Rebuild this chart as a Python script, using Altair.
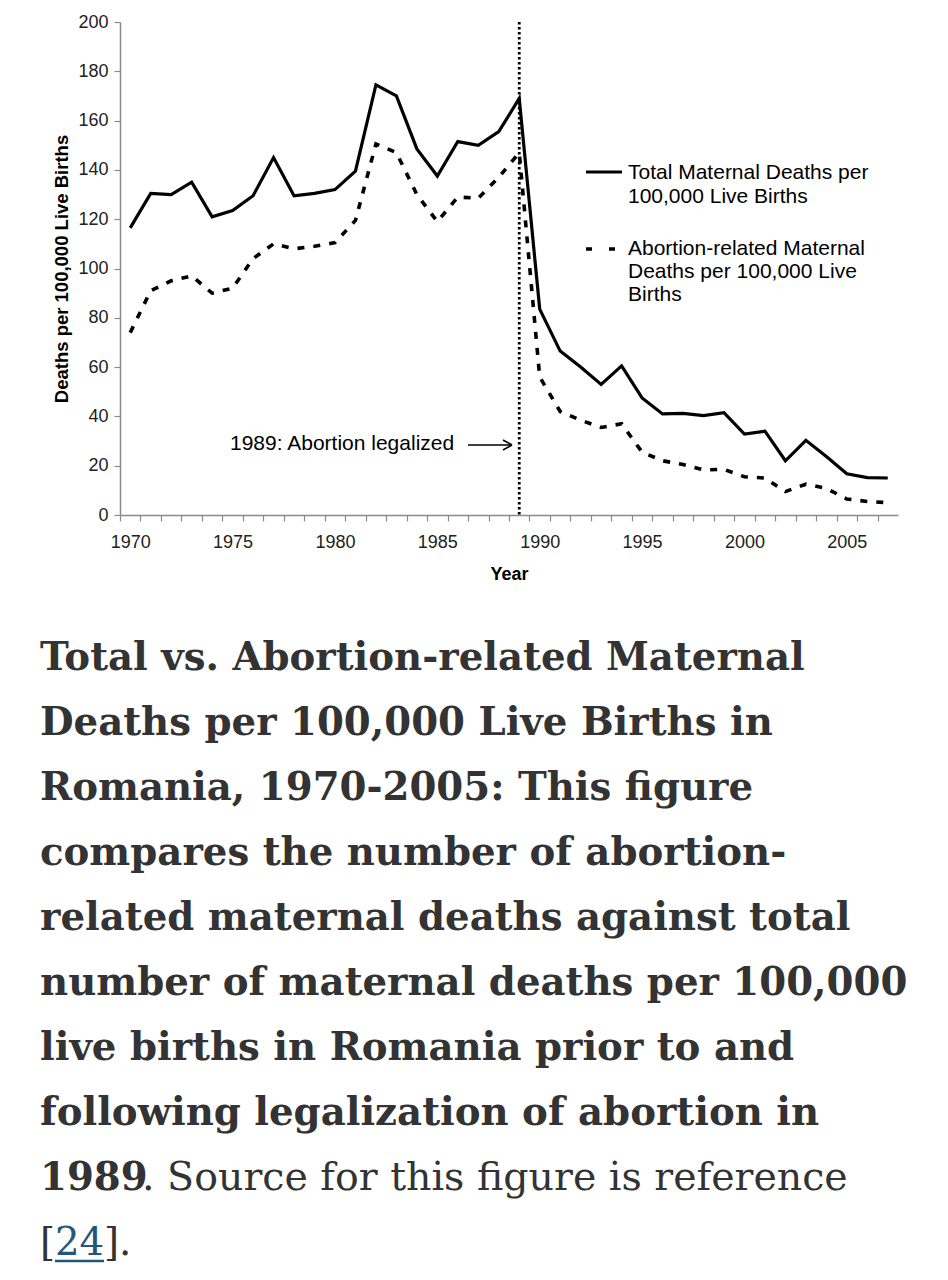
import altair as alt
import pandas as pd

# ---------------- data ----------------
years = list(range(1970, 2008))
total_deaths = [116.5, 130.5, 130.0, 135.0, 121.0, 123.5, 129.5, 145.0, 129.5, 130.5,
                132.0, 139.5, 174.5, 170.0, 148.5, 137.5, 151.5, 150.0, 155.5, 169.0,
                83.5, 66.5, 60.0, 53.0, 60.5, 47.5, 41.0, 41.2, 40.3, 41.5,
                32.8, 34.0, 22.0, 30.3, 23.7, 16.7, 15.2, 15.0]
abortion_deaths = [74.0, 91.0, 95.0, 97.0, 90.0, 92.0, 104.0, 110.0, 108.0, 109.0,
                   110.5, 119.5, 150.5, 147.0, 130.0, 119.0, 129.0, 128.5, 137.0, 147.0,
                   56.0, 42.0, 38.5, 35.5, 37.0, 25.5, 22.0, 20.5, 18.3, 18.5,
                   15.5, 15.0, 9.5, 12.5, 10.8, 6.5, 5.5, 5.0]
legal_year = [1989]
y_tick_values = [0, 20, 40, 60, 80, 100, 120, 140, 160, 180, 200]
x_tick_years = list(range(1970, 2009))

legend_total = ["Total Maternal Deaths per", "100,000 Live Births"]
legend_abort = ["Abortion-related Maternal", "Deaths per 100,000 Live", "Births"]
annotation = "1989: Abortion legalized"

caption_bold_lines = [
    "Total vs. Abortion-related Maternal",
    "Deaths per 100,000 Live Births in",
    "Romania, 1970-2005: This figure",
    "compares the number of abortion-",
    "related maternal deaths against total",
    "number of maternal deaths per 100,000",
    "live births in Romania prior to and",
    "following legalization of abortion in",
]
caption_l9_bold = "1989"
caption_l9_rest = ". Source for this figure is reference"
ref_open, ref_num, ref_close = "[", "24", "]."

df = pd.DataFrame({"Year": years, "Total": total_deaths, "Abortion": abortion_deaths})
one = pd.DataFrame({"a": [0]})

W, H = 778, 493
half = W / 38 / 2
SANS = "Liberation Sans"
SERIF = "DejaVu Serif"
CAP = "#333333"

x_enc = alt.X(
    "Year:Q",
    scale=alt.Scale(domain=[1969.5, 2007.5], nice=False, zero=False),
    axis=alt.Axis(
        values=x_tick_years, format="d", tickOffset=-half, labelOffset=half,
        labelExpr="datum.value % 5 == 0 ? datum.label : ''",
        labelOverlap=False, labelFlush=False, title="Year",
        tickSize=6, labelPadding=12, titlePadding=14, titleFontSize=18,
    ),
)
y_axis = alt.Axis(values=y_tick_values, title="Deaths per 100,000 Live Births",
                  tickSize=6, labelPadding=6, titlePadding=6, titleFontSize=18.5)
y_scale = alt.Scale(domain=[0, 200], nice=False)

base = alt.Chart(df)
solid = base.mark_line(color="black", strokeWidth=3.2).encode(
    x=x_enc, y=alt.Y("Total:Q", scale=y_scale, axis=y_axis))
dashed = base.mark_line(color="black", strokeWidth=3.6, strokeDash=[7, 9]).encode(
    x=x_enc, y=alt.Y("Abortion:Q", scale=y_scale, axis=y_axis))
vline = alt.Chart(pd.DataFrame({"Year": legal_year})).mark_rule(
    color="black", strokeWidth=2.8, strokeDash=[2.5, 2.5]).encode(x=x_enc)

def txt(x, y, text, size, font=SANS, weight="normal", color="black", lh=None):
    kw = dict(align="left", baseline="alphabetic", font=font, fontSize=size,
              fontWeight=weight, color=color)
    if lh:
        kw["lineHeight"] = lh
    return alt.Chart(one).mark_text(**kw).encode(
        x=alt.value(x), y=alt.value(y), text=alt.value(text))

def seg(x1, y1, x2, y2, width=2.2, dash=None, color="black"):
    kw = dict(color=color, strokeWidth=width)
    if dash:
        kw["strokeDash"] = dash
    return alt.Chart(one).mark_rule(**kw).encode(
        x=alt.value(x1), x2=alt.value(x2), y=alt.value(y1), y2=alt.value(y2))

# page -> plot coordinates: plot origin at page (120, 22)
def px(X):
    return X - 120
def py(Y):
    return Y - 22

layers = [solid, dashed, vline]
# legend
layers.append(seg(px(586), py(172), px(622), py(172), width=3.2))
layers.append(seg(px(586), py(249), px(616), py(249), width=3.6, dash=[6, 17]))
layers.append(txt(px(628), py(179), legend_total, 21, lh=24))
layers.append(txt(px(628), py(255), legend_abort, 21, lh=23))
# annotation
layers.append(txt(px(230), py(450), annotation, 21))
layers.append(seg(px(468), py(445), px(512), py(445), width=1.6))
layers.append(seg(px(503), py(440), px(512), py(445), width=1.6))
layers.append(seg(px(503), py(450), px(512), py(445), width=1.6))

# caption
FS = 38.7
for i, line in enumerate(caption_bold_lines):
    layers.append(txt(px(40), py(670 + 65 * i), line, FS, font=SERIF, weight="bold", color=CAP))
layers.append(txt(px(40), py(670 + 65 * 8), caption_l9_bold, FS, font=SERIF, weight="bold", color=CAP))
layers.append(txt(px(142), py(670 + 65 * 8), caption_l9_rest, 39.5, font=SERIF, color=CAP))
layers.append(txt(px(40), py(670 + 65 * 9), ref_open, FS, font=SERIF, color=CAP))
layers.append(txt(px(55), py(670 + 65 * 9), ref_num, FS, font=SERIF, color="#24557a"))
layers.append(txt(px(104), py(670 + 65 * 9), ref_close, FS, font=SERIF, color=CAP))
layers.append(seg(px(55), py(1261), px(104), py(1261), width=2.5, color="#24557a"))

chart = alt.layer(*layers).properties(
    width=W, height=H,
    autosize=alt.AutoSizeParams(type="none"),
    padding={"left": 112, "top": 14, "right": 30, "bottom": 750},
).configure_view(stroke=None).configure_axis(
    domainColor="#8a8a8a", tickColor="#8a8a8a", domainWidth=1.5, tickWidth=1.2,
    labelColor="#222222", labelFont=SANS, labelFontSize=18,
    titleFont=SANS, titleFontWeight="bold", titleColor="black",
    grid=False,
)

chart.save("out.html", embed_options={"renderer": "svg", "actions": False})
